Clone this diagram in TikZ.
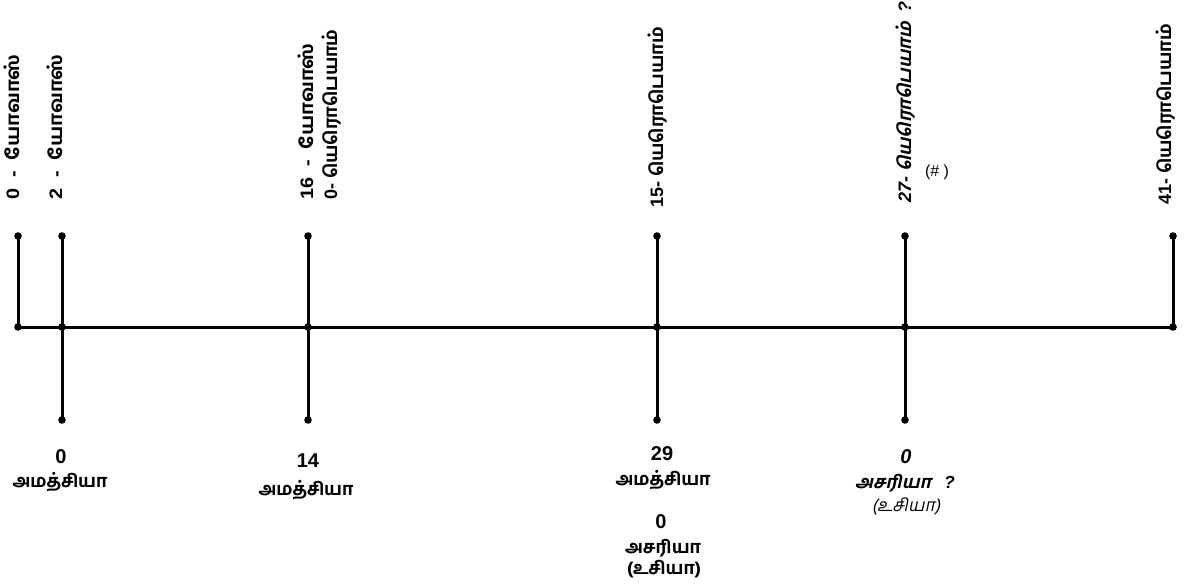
\documentclass[tikz,border=0pt]{standalone}
\usepackage{fontspec}
\setmainfont{Liberation Sans}
\newfontfamily\ta[Script=Tamil]{Hind Madurai Bold}
\newfontfamily\tasl[Script=Tamil,FakeSlant=0.22]{Hind Madurai Bold}
\newfontfamily\tasllight[Script=Tamil,FakeSlant=0.22]{Hind Madurai}
\tikzset{
  axis/.style={line width=3bp, line cap=butt},
  dotfill/.style={fill=black},
  toplab/.style={rotate=90, anchor=base west, inner sep=0pt},
  botlab/.style={anchor=base, inner sep=0pt, align=center},
}
\newcommand{\topfont}{\fontsize{18bp}{20bp}\selectfont}
\newcommand{\numfont}{\fontsize{20bp}{22bp}\selectfont\bfseries}
\newcommand{\tamfont}{\fontsize{17.5bp}{20bp}\selectfont}
\newcommand{\stretchA}[1]{\scalebox{1.1}[1]{#1}}
\newcommand{\stretchB}[1]{\scalebox{1.0}[1]{#1}}
\begin{document}
\begin{tikzpicture}[x=1bp,y=-1bp]
\useasboundingbox (0,0) rectangle (1191,587);
% axis points
\coordinate (a1) at (18,327);
\coordinate (a2) at (62,327);
\coordinate (a3) at (308,327);
\coordinate (a4) at (657,327);
\coordinate (a5) at (905,327);
\coordinate (a6) at (1173,327);
% top ends
\coordinate (t1) at (18,236);
\coordinate (t2) at (62,236);
\coordinate (t3) at (308,236);
\coordinate (t4) at (657,236);
\coordinate (t5) at (905,236);
\coordinate (t6) at (1173,236);
% bottom ends
\coordinate (b2) at (62,420);
\coordinate (b3) at (308,420);
\coordinate (b4) at (657,420);
\coordinate (b5) at (905,420);

\draw[axis] (a1) -- (a6);
\draw[axis] (t1) -- (a1);
\draw[axis] (t2) -- (b2);
\draw[axis] (t3) -- (b3);
\draw[axis] (t4) -- (b4);
\draw[axis] (t5) -- (b5);
\draw[axis] (t6) -- (a6);

\foreach \p in {a1,a2,a3,a4,a5,a6,t1,t2,t3,t4,t5,t6,b2,b3,b4,b5}
  \fill[dotfill] (\p) circle (3.8);

% top labels
\node[toplab] (l1) at (19,200) {\topfont\stretchA{\bfseries 0 \ - \ {\ta யோவாஸ்}}};
\node[toplab] (l2) at (62,200) {\topfont\stretchA{\bfseries 2 \ - \ {\ta யோவாஸ்}}};
\node[toplab] (l3) at (313,200) {\topfont\stretchA{\bfseries 16 \ - \ {\ta யோவாஸ்}}};
\node[toplab] (l4) at (337,200) {\topfont\stretchB{\bfseries 0- {\ta யெரொபெயாம்}}};
\node[toplab] (l5) at (663,208) {\topfont\stretchB{\bfseries 15- {\ta யெரொபெயாம்}}};
\node[toplab] (l6) at (911,203) {\topfont\stretchB{\bfseries\itshape 27- {\tasl யெரொபெயாம்} \ ?}};
\node[toplab] (l7) at (1171,205) {\topfont\stretchB{\bfseries 41- {\ta யெரொபெயாம்}}};
\node[anchor=base, inner sep=0pt] (hash) at (937,177) {\fontsize{16bp}{18bp}\selectfont (\# )};

% bottom labels
\node[botlab] (n1) at (61,463) {\numfont 0};
\node[botlab] (m1) at (60,487) {\tamfont\ta அமத்சியா};
\node[botlab] (n2) at (308,467) {\numfont 14};
\node[botlab] (m2) at (306,495) {\tamfont\ta அமத்சியா};
\node[botlab] (n3) at (662,460) {\numfont 29};
\node[botlab] (m3) at (663,485) {\tamfont\ta அமத்சியா};
\node[botlab] (n4) at (661,528) {\numfont 0};
\node[botlab] (m4) at (663,553) {\tamfont\ta அசரியா};
\node[botlab] (m5) at (664,574) {\tamfont\ta (உசியா)};
\node[botlab] (n5) at (906,463) {\numfont\itshape 0};
\node[botlab] (m6) at (905,488) {\tamfont\tasl அசரியா \ \ \normalfont\bfseries\itshape ?};
\node[botlab] (m7) at (906,511) {\tamfont\tasllight (உசியா)};
\end{tikzpicture}
\end{document}
